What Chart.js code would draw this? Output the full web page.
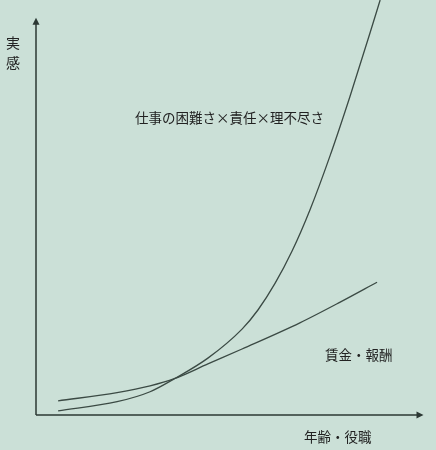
<!DOCTYPE html>
<html>
<head>
<meta charset="utf-8">
<script src="https://cdn.jsdelivr.net/npm/chart.js@4"></script>
<style>
  body { margin: 0; background: #cbe0d7; }
  #box { width: 436px; height: 450px; position: relative; }
</style>
</head>
<body>
<div id="box"><canvas id="chart"></canvas></div>
<script>
// x: 年齢・役職 (0-100), y: 実感 (0-100)
const burdenX = [5.7, 20.9, 29.4, 35.8, 44.3, 53.1, 57.2, 61.6, 66.0, 70.6, 75.8, 80.9, 86.1, 88.7];
const burdenY = [1.0, 3.2, 5.6, 8.8, 13.7, 20.7, 25.3, 31.7, 39.5, 49.4, 62.5, 76.7, 92.1, 100];
const wageX = [5.7, 20.9, 29.4, 35.8, 44.3, 53.1, 68.0, 78.4, 87.9];
const wageY = [3.4, 5.4, 7.0, 8.8, 12.3, 15.9, 22.2, 27.2, 32.0];

const burdenLabel = "仕事の困難さ×責任×理不尽さ";
const wageLabel = "賃金・報酬";
const xTitle = "年齢・役職";
const yTitle = ["実", "感"];

const lineColor = "#3b4a44";
const axisColor = "#2c3834";
const font = '"Noto Sans CJK JP", "Noto Sans", sans-serif';

const toPoints = (xs, ys) => xs.map((x, i) => ({ x: x, y: ys[i] }));

// axes with arrowheads and the free text labels
const decor = {
  id: "decor",
  afterDatasetsDraw(chart) {
    const { ctx, scales: { x, y } } = chart;
    const x0 = x.getPixelForValue(0);
    const y0 = y.getPixelForValue(0);
    const yTop = y.getPixelForValue(95.7);
    const xEnd = x.getPixelForValue(100) - 0.5;
    ctx.save();
    ctx.strokeStyle = axisColor;
    ctx.fillStyle = axisColor;
    ctx.lineWidth = 1.5;
    ctx.beginPath();
    ctx.moveTo(x0, y0);
    ctx.lineTo(x0, yTop + 4);
    ctx.moveTo(x0, y0);
    ctx.lineTo(xEnd - 4, y0);
    ctx.stroke();
    ctx.beginPath();
    ctx.moveTo(x0, yTop);
    ctx.lineTo(x0 - 3.5, yTop + 7);
    ctx.lineTo(x0 + 3.5, yTop + 7);
    ctx.closePath();
    ctx.fill();
    ctx.beginPath();
    ctx.moveTo(xEnd, y0);
    ctx.lineTo(xEnd - 7, y0 - 3.5);
    ctx.lineTo(xEnd - 7, y0 + 3.5);
    ctx.closePath();
    ctx.fill();

    ctx.fillStyle = "#222";
    ctx.font = "13.5px " + font;
    ctx.textBaseline = "middle";
    ctx.textAlign = "left";
    ctx.fillText(burdenLabel, 135, 118);
    ctx.fillText(wageLabel, 325, 355);
    ctx.fillText(xTitle, 304, 437);
    ctx.textAlign = "center";
    ctx.font = "14px " + font;
    ctx.fillText(yTitle[0], 13, 43);
    ctx.fillText(yTitle[1], 13, 63);
    ctx.restore();
  },
};

new Chart(document.getElementById("chart"), {
  type: "line",
  plugins: [decor],
  data: {
    datasets: [
      {
        data: toPoints(burdenX, burdenY),
        borderColor: lineColor,
        borderWidth: 1.3,
        pointRadius: 0,
        cubicInterpolationMode: "monotone",
        clip: false,
      },
      {
        data: toPoints(wageX, wageY),
        borderColor: lineColor,
        borderWidth: 1.3,
        pointRadius: 0,
        cubicInterpolationMode: "monotone",
        clip: false,
      },
    ],
  },
  options: {
    responsive: true,
    maintainAspectRatio: false,
    animation: false,
    layout: { padding: { left: 36, right: 12, top: 0, bottom: 35 } },
    scales: {
      x: { type: "linear", min: 0, max: 100, display: false },
      y: { type: "linear", min: 0, max: 100, display: false },
    },
    plugins: {
      legend: { display: false },
      tooltip: { enabled: false },
    },
  },
});
</script>
</body>
</html>
